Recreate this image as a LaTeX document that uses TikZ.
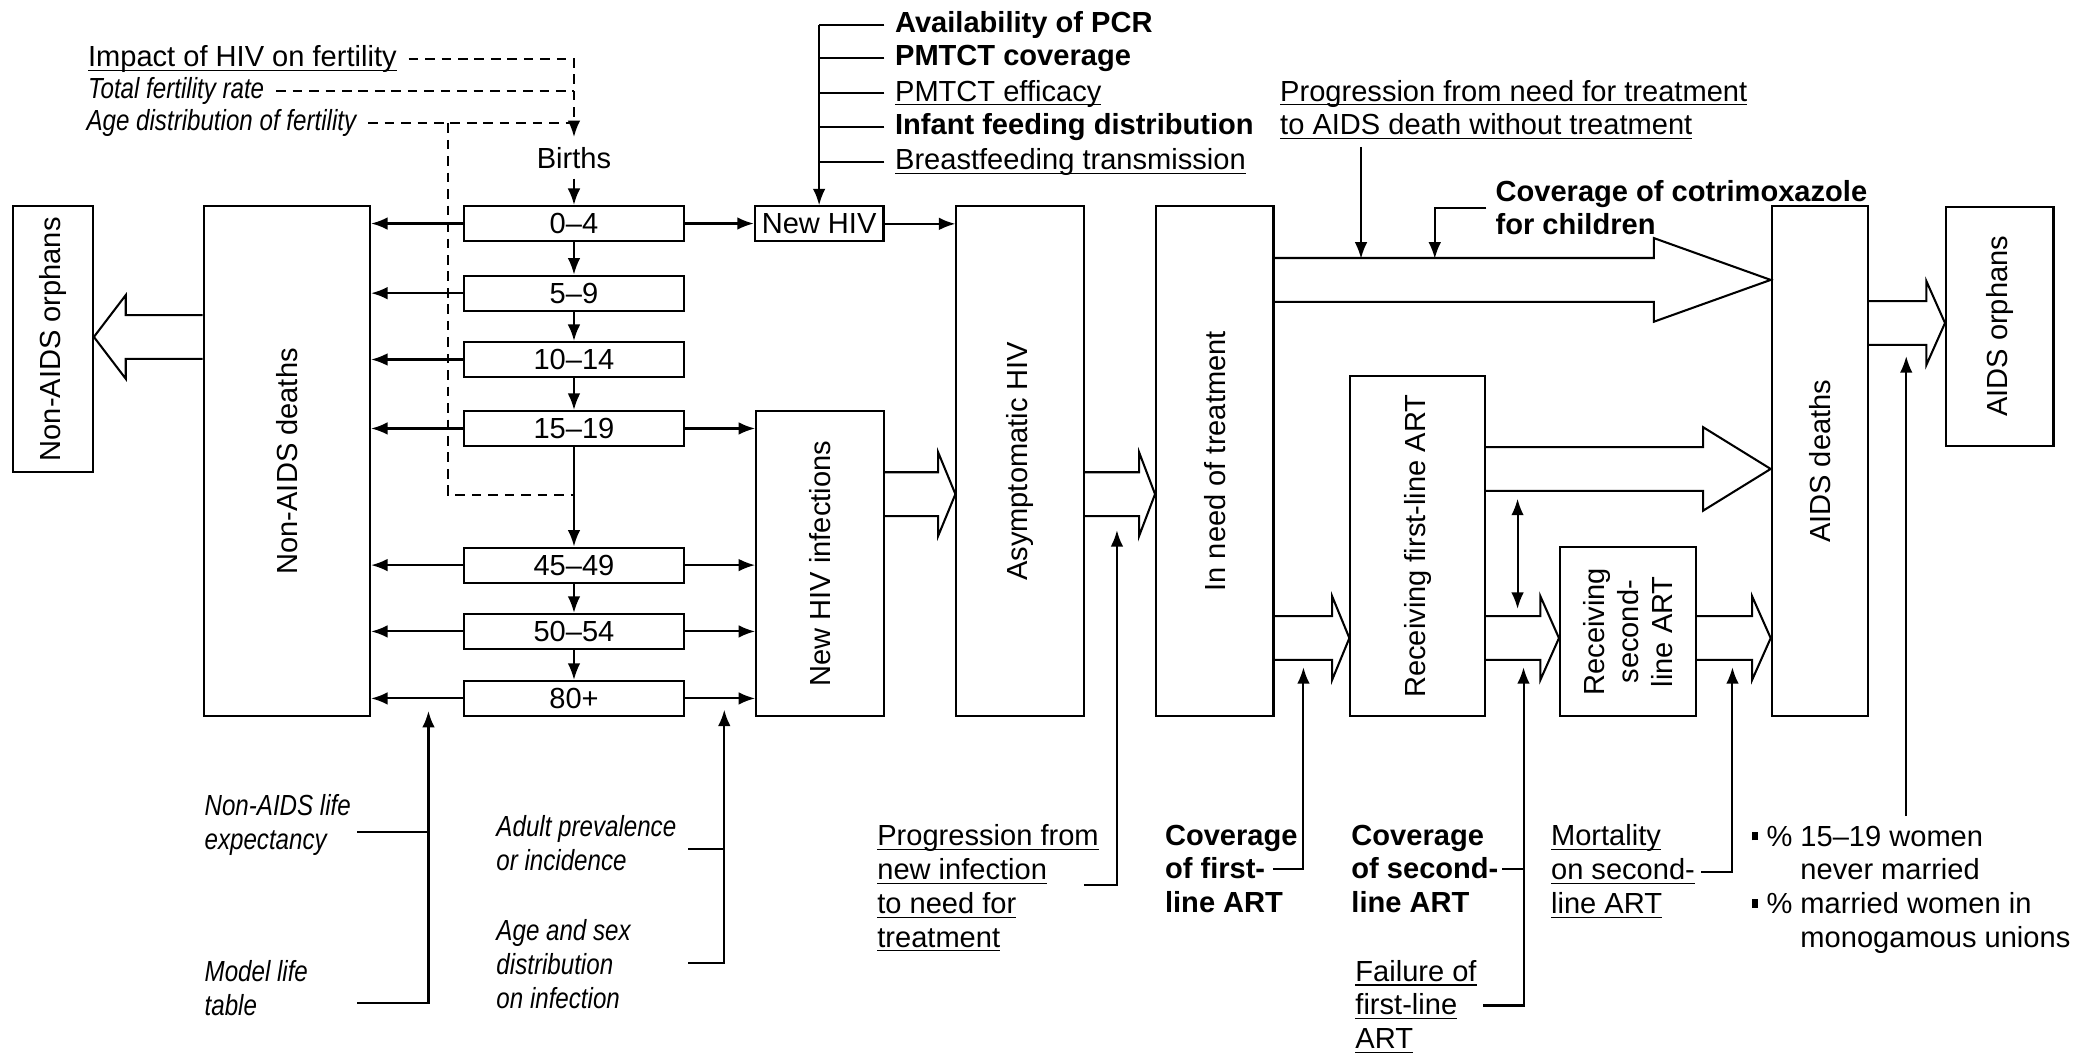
\documentclass[tikz,border=0pt]{standalone}
\usepackage{fontspec}
\setmainfont{Liberation Sans}
\newfontfamily\itcond{Liberation Sans}[FakeStretch=0.83]
\usetikzlibrary{arrows.meta,calc}
\newcommand{\nf}{\fontsize{10.6}{12.3}\selectfont}
\newcommand{\ul}[1]{\underline{\raisebox{0pt}[\height][0pt]{#1}}}
\newcommand{\sq}{\rule[0.2em]{0.22em}{0.3em}}
\newcommand{\fatarrow}[4]{%
  \coordinate (fa) at (#1 |- 0,#3);
  \coordinate (fb) at (#2 |- 0,#3);
  \draw ($(fa)+(0,-16.5)$) -- ($(fb)+({-(#4)},-16.5)$) -- ($(fb)+({-(#4)},-31.5)$)
    -- (fb) -- ($(fb)+({-(#4)},31.5)$) -- ($(fb)+({-(#4)},16.5)$) -- ($(fa)+(0,16.5)$);}

\begin{document}
\begin{tikzpicture}[x=0.017cm,y=-0.017cm,line width=0.75pt,line join=miter,
  every node/.style={font=\nf},>={Latex[length=6pt,width=4.6pt]}]
\tikzset{box/.style 2 args={draw,inner sep=0pt,minimum width={#1*0.017cm},minimum height={#2*0.017cm}},
  lab/.style={inner sep=0pt,align=left,anchor=north west},
  labb/.style={lab,font=\nf\bfseries},
  labi/.style={lab,font=\nf\itcond\itshape},
  rot/.style={label={[rotate=90,align=center]center:#1}},
  dashline/.style={dash pattern=on 3.5pt off 2.5pt}}
\path[fill=white,use as bounding box] (0,0) rectangle (1568,794);

\node[box={60}{200.5},rot={Non-AIDS orphans}] (nao) at (40,255.75) {};
\node[box={125.5}{384.5},rot={Non-AIDS deaths}] (nad) at (216.25,347.75) {};
\foreach \n/\y/\lbl in {a04/168.5/0--4,a59/221/5--9,a1014/271/10--14,a1519/323/15--19,
  a4549/426/45--49,a5054/476/50--54,a80/526.5/80+}
  \node[box={165.8}{26.5}] (\n) at (432.7,\y) {\lbl};
\node (births) at (432.7,119) {Births};
\node[box={97}{26.5}] (newhiv) at (617.5,168.75) {New HIV};
\node[box={96.5}{230},rot={New HIV infections}] (newinf) at (618.25,425) {};
\node[box={96}{384.5},rot={Asymptomatic HIV}] (asym) at (769,347.75) {};
\node[box={88.5}{384.5},rot={In need of treatment}] (need) at (915.75,347.75) {};
\node[box={101.5}{256.5},rot={Receiving first-line ART}] (first) at (1068.75,411.75) {};
\node[box={102.5}{127.5},rot={Receiving\\second-\\line ART}] (second) at (1227.25,476.25) {};
\node[box={72.4}{384.5},rot={AIDS deaths}] (aidsd) at (1371.8,347.75) {};
\node[box={81}{180},rot={AIDS orphans}] (aidso) at (1507.5,246) {};

\node[lab] (impact) at (65.6,33.5) {\ul{Impact of HIV on fertility}};
\node[labi] (tfr) at (65.6,57.5) {Total fertility rate};
\node[labi] (agedist) at (64.5,82) {Age distribution of fertility};
\coordinate (lp) at (338,373);
\draw[dashline,->] ([xshift=4pt]impact.east) -- (impact.east -| births) -- (births);
\draw[dashline] ([xshift=4pt]tfr.east) -- (tfr.east -| births);
\draw[dashline] ([xshift=4pt]agedist.east) -- (agedist.east -| births);
\draw[dashline] (lp |- agedist.east) -- (lp) -- (lp -| a1519);

\draw[->] (births) -- (a04);
\foreach \u/\v in {a04/a59,a59/a1014,a1014/a1519,a1519/a4549,a4549/a5054,a5054/a80}
  \draw[->] (\u) -- (\v);
\foreach \n in {a04,a59,a1014,a1519,a4549,a5054,a80}
  \draw[->] (\n.west) -- (\n.west -| nad.east);
\foreach \n in {a1519,a4549,a5054,a80}
  \draw[->] (\n.east) -- (\n.east -| newinf.west);
\draw[->] (a04.east) -- (a04.east -| newhiv.west);
\draw[->] (newhiv.east) -- (newhiv.east -| asym.west);

\node[labb] (pcr) at (674,8) {Availability of PCR};
\node[labb] (pmcov) at (674,33) {PMTCT coverage};
\node[lab] (pmeff) at (674,59.5) {\ul{PMTCT efficacy}};
\node[labb] (infant) at (674,84.6) {Infant feeding distribution};
\node[lab] (breast) at (674,111) {\ul{Breastfeeding transmission}};
\foreach \n in {pcr,pmcov,pmeff,infant,breast}
  \draw ([xshift=-3.5pt]\n.west) -- (\n.west -| newhiv.north);
\draw[->] (pcr.west -| newhiv.north) -- (newhiv.north);

\node[lab] (prog) at (964.3,59.5) {\ul{Progression from need for treatment}\\\ul{to AIDS death without treatment}};
\coordinate (progtip) at (1026,195);
\draw[->] ([yshift=-2pt]prog.south -| progtip) -- (progtip);
\node[labb] (cotri) at (1126.7,135) {Coverage of cotrimoxazole\\for children};
\coordinate (cotritip) at (1081.6,195);
\draw[->] ([xshift=-3pt]cotri.west) -| (cotritip);

\fatarrow{nad.west}{nao.east}{254}{-24}
\fatarrow{newinf.east}{asym.west}{372.5}{13}
\fatarrow{asym.east}{need.west}{372.5}{12}
\fatarrow{need.east}{aidsd.west}{211}{88}
\fatarrow{first.east}{aidsd.west}{353.5}{51}
\fatarrow{need.east}{first.west}{481}{13}
\fatarrow{first.east}{second.west}{481}{14}
\fatarrow{second.east}{aidsd.west}{481}{14}
\fatarrow{aidsd.east}{aidso.west}{243.5}{14}

\coordinate (dbltop) at (1144,376);
\coordinate (dblbot) at (1144,459);
\draw[<->] (dbltop) -- (dblbot);

\node[labi] (lifeexp) at (153.5,598) {Non-AIDS life\\expectancy};
\node[labi] (lifetab) at (153.5,723.5) {Model life\\table};
\coordinate (nastart) at ([xshift=2pt]lifeexp.east);
\coordinate (natip) at (323,536);
\draw (nastart |- 0,627) -- (natip |- 0,627);
\draw[->] (nastart |- 0,756) -| (natip);

\node[labi] (adultprev) at (373.5,614) {Adult prevalence\\or incidence};
\node[labi] (agesex) at (373.5,692.5) {Age and sex\\distribution\\on infection};
\coordinate (hivstart) at ([xshift=4pt]adultprev.east);
\coordinate (hivtip) at (546,535);
\draw (hivstart |- 0,640) -- (hivtip |- 0,640);
\draw[->] (hivstart |- 0,725.7) -| (hivtip);

\node[lab] (prognew) at (660.6,621) {\ul{Progression from}\\\ul{new infection}\\\ul{to need for}\\\ul{treatment}};
\coordinate (pnstart) at (817,667);
\coordinate (asymtip) at (842,399.7);
\draw[->] (pnstart) -| (asymtip);

\node[labb] (cov1) at (877.5,621) {Coverage\\of first-\\line ART};
\coordinate (cov1start) at (960,655);
\coordinate (firsttip) at (982.6,503);
\draw[->] (cov1start) -| (firsttip);

\node[labb] (cov2) at (1018,621) {Coverage\\of second-\\line ART};
\node[lab] (fail) at (1021,723) {\ul{Failure of}\\\ul{first-line}\\\ul{ART}};
\coordinate (sectip) at (1148.5,503);
\draw ([xshift=1pt]cov2.east |- 0,655) -- (sectip |- 0,655);
\draw[->] ([xshift=2pt]fail.east |- 0,758) -| (sectip);

\node[lab] (mort) at (1168.5,621) {\ul{Mortality}\\\ul{on second-}\\\ul{line ART}};
\coordinate (aidstip) at (1306,503);
\draw[->] ([xshift=2pt]mort.east |- 0,657) -| (aidstip);

\node[lab] (women) at (1320,619.3) {\begin{tabular}{@{}l@{\ }l@{\ }l@{}}
  \sq & \% & 15--19 women\\ & & never married\\
  \sq & \% & married women in\\ & & monogamous unions\end{tabular}};
\coordinate (orphtip) at (1437,268.5);
\draw[->] ([yshift=2pt]women.north -| orphtip) -- (orphtip);
\end{tikzpicture}
\end{document}
